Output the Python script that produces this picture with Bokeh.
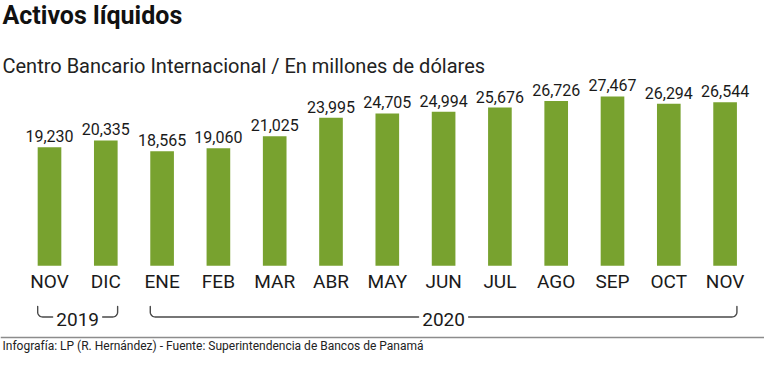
import numpy as np
from bokeh.plotting import figure
from bokeh.models import Range1d
from bokeh.core.properties import value
from bokeh.embed import file_html
from bokeh.resources import INLINE

# ---- data ----
months = ["NOV", "DIC", "ENE", "FEB", "MAR", "ABR", "MAY", "JUN", "JUL", "AGO", "SEP", "OCT", "NOV"]
activos = [19230, 20335, 18565, 19060, 21025, 23995, 24705, 24994, 25676, 26726, 27467, 26294, 26544]
years = ["2019", "2020"]
year_first = [0, 2]
year_last = [1, 12]
title_text = "Activos líquidos"
subtitle_text = "Centro Bancario Internacional / En millones de dólares"
footer_text = "Infografía: LP (R. Hernández) - Fuente: Superintendencia de Bancos de Panamá"

# ---- layout (figure pixels, y from top) ----
W, H = 764, 353
PXI = 56.3      # pixels per bar slot
X0 = 49.0       # pixel x of first bar centre
UPP = 162.2     # value units per pixel
BASE = 265.3    # pixel y of the bar baseline
BW = 0.42

SANS = "Roboto"
GREEN = "#78a22f"
INK = "#1a1a1a"


def xd(px):
    return (px - X0) / PXI


def yd(py):
    return (BASE - py) * UPP


p = figure(width=W, height=H, output_backend="svg", toolbar_location=None, title=None,
           x_range=Range1d(xd(0), xd(W)), y_range=Range1d(yd(H), yd(0)),
           x_axis_type=None, y_axis_type=None, min_border=0)
p.grid.visible = False
p.outline_line_color = None
p.background_fill_color = "white"
p.border_fill_color = "white"

idx = list(range(len(months)))

p.vbar(x=idx, top=activos, bottom=0, width=BW, fill_color=GREEN, line_color=None)

p.text(x=idx, y=[v + 11 * UPP for v in activos], text=[f"{v:,}" for v in activos],
       text_align="center", text_baseline="middle", text_font=value(SANS),
       text_font_size="16px", text_color=INK)

p.text(x=idx, y=[yd(280.5)] * len(idx), text=months, text_align="center",
       text_baseline="middle", text_font=value(SANS), text_font_size="19px",
       text_color=INK)

# year brackets
yT, yH = yd(306), yd(316.5)
rx, ry = 5 / PXI, 5 * UPP
g = 25 / PXI
for yr, s, e in zip(years, year_first, year_last):
    L, R = s - BW / 2, e + BW / 2
    C = (L + R) / 2
    t1 = np.linspace(np.pi, 1.5 * np.pi, 10)
    xs1 = [L] + list(L + rx + rx * np.cos(t1)) + [C - g]
    ys1 = [yT] + list(yH + ry + ry * np.sin(t1)) + [yH]
    t2 = np.linspace(1.5 * np.pi, 2 * np.pi, 10)
    xs2 = [C + g] + list(R - rx + rx * np.cos(t2)) + [R]
    ys2 = [yH] + list(yH + ry + ry * np.sin(t2)) + [yT]
    p.multi_line(xs=[xs1, xs2], ys=[ys1, ys2], line_color="#4a4a4a", line_width=1.4,
                 line_join="round", line_cap="round")
    p.text(x=[C], y=[yd(318.5)], text=[yr], text_align="center", text_baseline="middle",
           text_font=value(SANS), text_font_size="19px", text_color=INK)

# title, subtitle, footer
p.text(x=[xd(2)], y=[yd(15)], text=[title_text], text_align="left", text_baseline="middle",
       text_font=value(SANS), text_font_size="25px", text_font_style="bold", text_color="#111111")
p.text(x=[xd(2)], y=[yd(65.5)], text=[subtitle_text], text_align="left", text_baseline="middle",
       text_font=value(SANS), text_font_size="20px", text_color="#222222")
p.segment(x0=[xd(0)], y0=[yd(337)], x1=[xd(W)], y1=[yd(337)], line_color="#8c8c8c", line_width=1.6)
p.text(x=[xd(2)], y=[yd(345.5)], text=[footer_text], text_align="left", text_baseline="middle",
       text_font=value(SANS), text_font_size="12px", text_color="#222222")

open("out.html", "w").write(file_html(p, INLINE))
